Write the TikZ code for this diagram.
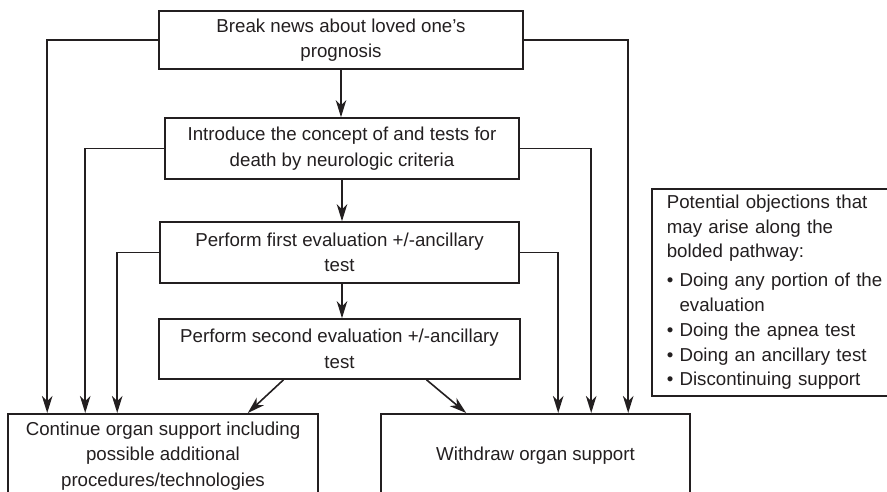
\documentclass[tikz,border=0pt]{standalone}
\usepackage{fontspec}
\setmainfont{Liberation Sans}
\usetikzlibrary{arrows.meta,positioning,calc}
\definecolor{Ink}{HTML}{231F20}
\newcommand{\ind}{\hphantom{\textbullet\ }}
\tikzset{
  >={Stealth[length=17pt,width=10.5pt,inset=5pt]},
  stage/.style={draw=Ink,line width=1.6pt,fill=white,align=center,inner sep=2pt,text=Ink,font=\fontsize{18.7}{25.5}\selectfont},
  outcome/.style={stage,anchor=north,minimum height=84pt},
  note/.style={stage,align=left,anchor=north west,text width=230pt,inner xsep=15pt,minimum height=207pt,font=\fontsize{18.7}{24.8}\selectfont},
  trans/.style={->,line width=1.6pt,draw=Ink}
}
\begin{document}
\begin{tikzpicture}[x=1pt,y=-1pt]
  \useasboundingbox (0,0) rectangle (887,491);
  \clip (0,0) rectangle (887,491);
  % main pathway
  \node[stage,minimum width=364pt,minimum height=58pt] (news) at (341,40) {Break news about loved one’s\\prognosis};
  \node[stage,minimum width=354pt,minimum height=61pt] (intro) at (342,148.5) {Introduce the concept of and tests for\\death by neurologic criteria};
  \node[stage,minimum width=359pt,minimum height=61pt] (first) at (339.5,252.5) {Perform first evaluation +/-ancillary\\test};
  \node[stage,minimum width=361pt,minimum height=60pt] (second) at (339.5,349) {Perform second evaluation +/-ancillary\\test};
  \node[outcome,minimum width=310pt] (cont) at (163,413) {Continue organ support including\\possible additional\\procedures/technologies};
  \node[outcome,minimum width=309pt] (wd) at (535.5,413) {Withdraw organ support};
  \node[note] (obj) at (651,188) {Potential objections that\\may arise along the\\bolded pathway:\\[4pt]
    \textbullet\ Doing any portion of the\\\ind evaluation\\
    \textbullet\ Doing the apnea test\\
    \textbullet\ Doing an ancillary test\\
    \textbullet\ Discontinuing support};
  \draw[trans] (news.south) -- (news.south |- intro.north);
  \draw[trans] (intro.south) -- (intro.south |- first.north);
  \draw[trans] ([xshift=2.5pt]first.south) -- ([xshift=2.5pt]first.south |- second.north);
  \draw[trans] ([xshift=-56pt]second.south) -- ([xshift=-71pt]cont.north east);
  \draw[trans] ([xshift=87pt]second.south) -- ([xshift=86pt]wd.north west);
  % side exits
  \draw[trans] (news.west) -| ([xshift=40pt]cont.north west);
  \draw[trans] (intro.west) -| ([xshift=78pt]cont.north west);
  \draw[trans] (first.west) -| ([xshift=110pt]cont.north west);
  \draw[trans] (first.east) -| ([xshift=178pt]wd.north west);
  \draw[trans] (intro.east) -| ([xshift=211pt]wd.north west);
  \draw[trans] (news.east) -| ([xshift=248pt]wd.north west);
\end{tikzpicture}
\end{document}
